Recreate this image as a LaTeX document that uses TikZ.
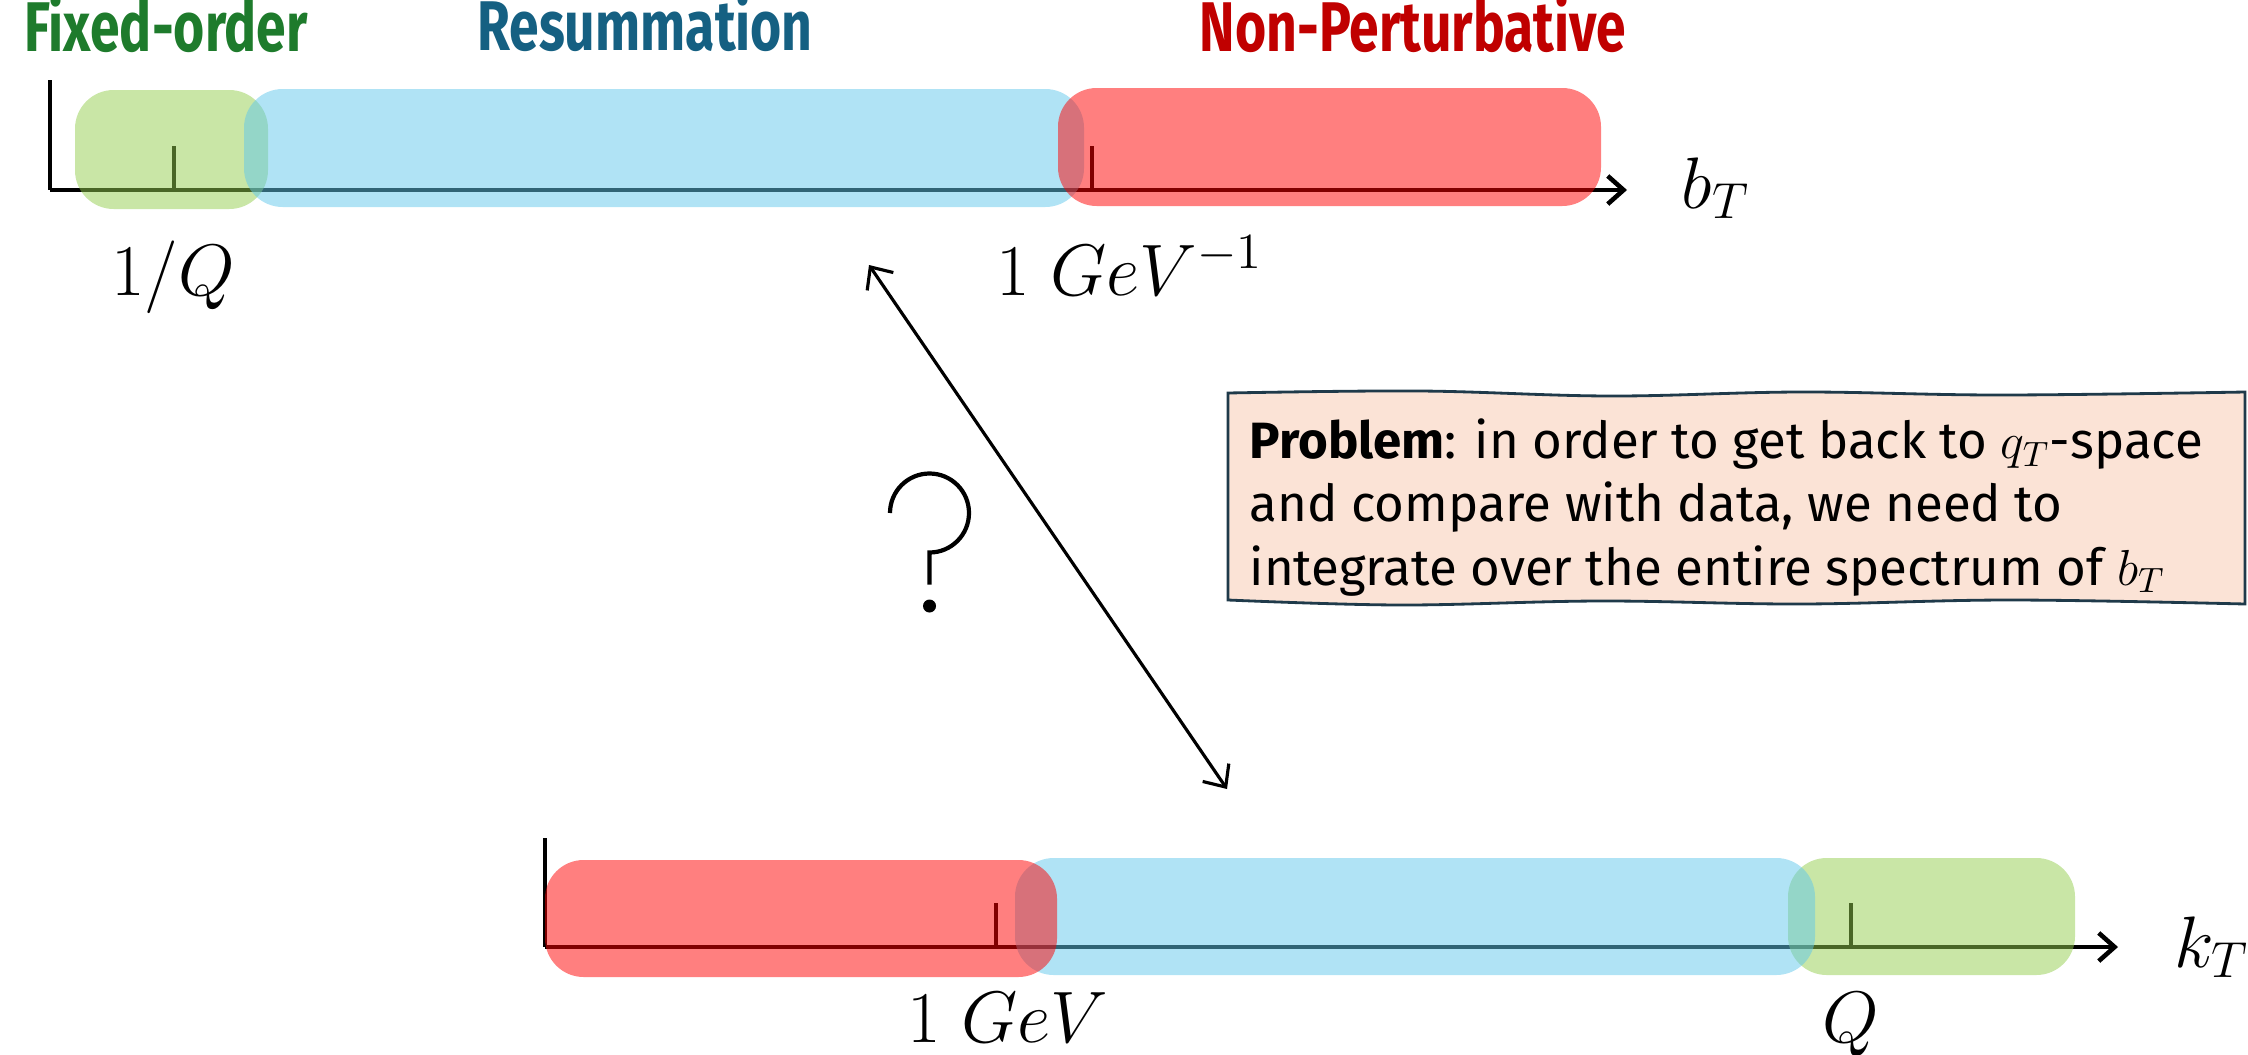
\documentclass[tikz,border=0pt]{standalone}
\usepackage{fontspec}
\usetikzlibrary{arrows.meta}
\newfontfamily\titlefont[FakeStretch=0.76]{Fira Sans}
\newfontfamily\boxfont{Fira Sans}
\definecolor{fixgreen}{HTML}{93CD4D}
\definecolor{resblue}{HTML}{61C8EB}
\definecolor{npred}{HTML}{FF0000}
\definecolor{fixtext}{HTML}{1E7B2C}
\definecolor{restext}{HTML}{156082}
\definecolor{nptext}{HTML}{C00000}
\definecolor{boxfill}{HTML}{FBE3D6}
\definecolor{boxedge}{HTML}{1F3A4A}
\begin{document}
\begin{tikzpicture}[x=0.01cm,y=-0.01cm,
  axisline/.style={line width=1.3pt,-{Straight Barb[length=4.5pt,width=8pt]}},
  tickline/.style={line width=0.9pt},
  band/.style={rounded corners=11pt,fill opacity=0.5},
  scalelabel/.style={font=\fontsize{21}{25}\selectfont,inner sep=0pt,anchor=base},
  title/.style={font=\titlefont\bfseries\fontsize{20}{24}\selectfont,inner sep=0pt,anchor=base},
  twoway/.style={{Straight Barb[length=5pt,width=9pt]}-{Straight Barb[length=5pt,width=9pt]},line width=0.9pt}]
\useasboundingbox (0,0) rectangle (2248,1054);

\node[title,text=fixtext] (fix) at (166,51) {Fixed-order};
\node[title,text=restext] (res) at (645,50) {Resummation};
\node[title,text=nptext] (np) at (1413,51) {Non-Perturbative};

\coordinate (b0) at (50,190);
\coordinate (btop) at (50,80);
\coordinate (bend) at (1627,190);
\draw[line width=0.9pt] (btop) -- (b0);
\draw[axisline] (b0) -- (bend);
\draw[tickline] (174,190) -- (174,146);
\draw[tickline] (1092,190) -- (1092,146);
\fill[band,fixgreen] (75,90) rectangle (268,209);
\fill[band,resblue] (244,89) rectangle (1084,207);
\fill[band,npred] (1058,88) rectangle (1601,206);
\node[scalelabel] (invq) at (173,295) {$1/Q$};
\node[scalelabel] (invgev) at (1130,295) {$1\;GeV^{-1}$};
\node[scalelabel,anchor=base west] (bt) at (1681,208) {$b_T$};

\coordinate (k0) at (545,947);
\coordinate (ktop) at (545,838);
\coordinate (kend) at (2118,947);
\draw[line width=0.9pt] (ktop) -- (k0);
\draw[axisline] (k0) -- (kend);
\draw[tickline] (996,947) -- (996,903);
\draw[tickline] (1851,947) -- (1851,903);
\fill[band,fixgreen] (1788,858) rectangle (2075,975);
\fill[band,resblue] (1015,858) rectangle (1815,975);
\fill[band,npred] (545,860) rectangle (1057,977);
\node[scalelabel] (gev) at (1008,1042) {$1\;GeV$};
\node[scalelabel] (q) at (1851,1042) {$Q$};
\node[scalelabel,anchor=base west] (kt) at (2174,967) {$k_T$};

\coordinate (q1) at (869,265);
\coordinate (q2) at (1227,789);
\draw[twoway] (q1) -- (q2);

\draw[line width=1.2pt] (890,513) arc (180:450:39.5) -- ++(0,32);
\fill (929.5,606) circle (6.5);

\filldraw[fill=boxfill,draw=boxedge,line width=0.8pt]
  plot[smooth,tension=.6] coordinates {(1228,393) (1420,391) (1610,396) (1800,392) (2000,395) (2245,392)}
  -- plot[smooth,tension=.6] coordinates {(2245,604) (2010,600) (1800,604) (1600,601) (1400,605) (1228,600)}
  -- cycle;
\node[font=\boxfont\fontsize{14.5}{18}\selectfont,align=left,inner sep=0pt,anchor=north west] (problem) at (1249,418)
  {\textbf{Problem}: in order to get back to $q_T$-space\\
   and compare with data, we need to\\
   integrate over the entire spectrum of $b_T$};
\end{tikzpicture}
\end{document}
